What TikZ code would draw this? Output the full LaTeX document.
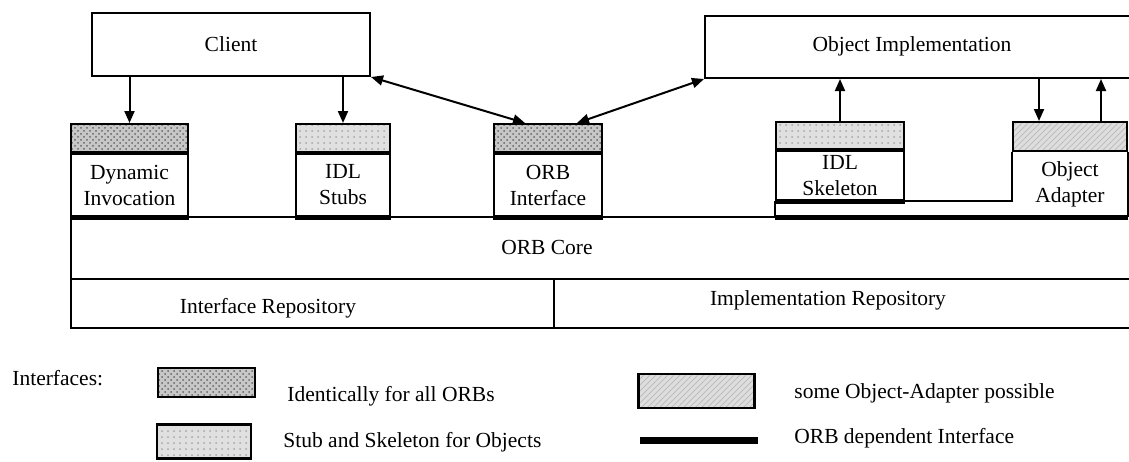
\documentclass[tikz,border=0pt]{standalone}
\usepackage{fontspec}
\setmainfont{Liberation Serif}
\usetikzlibrary{arrows.meta, positioning, patterns}
\newlength{\bandh}
\setlength{\bandh}{14pt}
\newlength{\bodyh}
\setlength{\bodyh}{31pt}
\tikzset{txt/.style={inner sep=0pt, font=\fontsize{10.75}{13}\selectfont}}
\tikzset{box/.style={draw, line width=1pt, inner sep=0pt, align=center, font=\fontsize{10.75}{13}\selectfont}}
\tikzset{darkband/.style={box, preaction={fill=black!22}, pattern=crosshatch dots, pattern color=black!60, minimum height=\bandh}}
\tikzset{lightband/.style={box, preaction={fill=black!12}, pattern=dots, pattern color=black!35, minimum height=\bandh}}
\tikzset{oaband/.style={box, preaction={fill=black!13}, pattern=north east lines, pattern color=black!25, minimum height=\bandh}}
\tikzset{line/.style={line width=1pt}}
\tikzset{bar/.style={line width=2.5pt}}
\tikzset{arr/.style={-{Triangle[length=6pt,width=5pt]}, line width=1pt}}
\tikzset{darr/.style={{Triangle[length=6pt,width=5pt]}-{Triangle[length=6pt,width=5pt]}, line width=1pt}}
\begin{document}
\begin{tikzpicture}[x=0.5pt, y=-0.5pt]
	\useasboundingbox (0,0) rectangle (1129,461);
	\clip (0,0) rectangle (1129,461);
	
	%%% NODES %%%
	
	% CLIENT AND OBJECT IMPLEMENTATION
	\node[box, minimum width=139pt, minimum height=31.5pt] at (231,44.5) (client) {Client};
	\node[box, minimum width=218pt, minimum height=31pt, anchor=north west] at (704,15) (objimpl) {};
	\node[txt] at (912,46) (objimpltext) {Object Implementation};
	
	% INTERFACES
	\node[darkband, minimum width=58.5pt] at (129.5,138) (dynband) {};
	\node[box, minimum width=58.5pt, minimum height=\bodyh, below=0pt of dynband] (dyn) {Dynamic\\Invocation};
	\node[lightband, minimum width=47pt] at (343,138) (stubsband) {};
	\node[box, minimum width=47pt, minimum height=\bodyh, below=0pt of stubsband] (stubs) {IDL\\Stubs};
	\node[darkband, minimum width=54pt] at (548,138) (orbifband) {};
	\node[box, minimum width=54pt, minimum height=\bodyh, below=0pt of orbifband] (orbif) {ORB\\Interface};
	\node[lightband, minimum width=64pt, minimum height=13.5pt] at (840,135.5) (skelband) {};
	\node[box, minimum width=64pt, minimum height=24.5pt, below=0pt of skelband] (skel) {IDL\\Skeleton};
	\node[oaband, minimum width=57pt, minimum height=14.5pt] at (1070,136.5) (adaptband) {};
	\node[box, draw=none, minimum width=57pt, minimum height=31.5pt, below=0pt of adaptband] (adapt) {Object\\Adapter};
	
	% ORB CORE AND REPOSITORIES
	\coordinate (corenw) at (71,214);
	\draw[line] (corenw) -- (71,328) -- (1140,328);
	\draw[line] (71,279) -- (1140,279);
	\draw[line] (554,279) -- (554,328);
	\node[txt] at (547,247) (orbcore) {ORB Core};
	\node[txt] at (268,308) (intrepo) {Interface Repository};
	\node[txt] at (828,300) (implrepo) {Implementation Repository};
	
	% LEGEND
	\node[txt, anchor=west] at (12,378) (legtitle) {Interfaces:};
	\node[darkband, minimum width=48.5pt, minimum height=14.5pt, line width=1.2pt] at (206.5,382.5) (legdark) {};
	\node[txt, anchor=west] at (287,396) (legdarktext) {Identically for all ORBs};
	\node[lightband, minimum width=47pt, minimum height=17pt, line width=1.2pt] at (204,441.5) (leglight) {};
	\node[txt, anchor=west] at (283,442) (leglighttext) {Stub and Skeleton for Objects};
	\node[oaband, minimum width=58pt, minimum height=17pt, line width=1.2pt] at (696.5,391) (legoa) {};
	\node[txt, anchor=west] at (794,393) (legoatext) {some Object-Adapter possible};
	\coordinate (legbarw) at (640,440);
	\coordinate (legbare) at (758,440);
	\node[txt, anchor=west] at (794,438) (legbartext) {ORB dependent Interface};
	
	%%% LINES %%%
	
	% ORB CORE TOP
	\draw[line] (dyn.south east) -- (stubs.south west);
	\draw[line] (stubs.south east) -- (orbif.south west);
	\draw[line] (orbif.south east) -- (skel.west |- adapt.south);
	\draw[line] (skel.south west) -- (skel.west |- adapt.south);
	\draw[line] (skel.south east) -- (adapt.west |- skel.south) -- (adapt.north west);
	\draw[line] (adapt.north east) -- (adapt.south east);
	
	% ORB DEPENDENT BARS
	\draw[bar] (dyn.south west) -- (dyn.south east);
	\draw[bar] (stubs.south west) -- (stubs.south east);
	\draw[bar] (orbif.south west) -- (orbif.south east);
	\draw[bar] (skel.south west) -- (skel.south east);
	\draw[bar] (skel.west |- adapt.south) -- (adapt.south east);
	\draw[line width=3.5pt] (legbarw) -- (legbare);
	
	%%% ARROWS %%%
	\coordinate (oain) at ([xshift=-15.5pt]adaptband.north);
	\coordinate (oaout) at ([xshift=15.5pt]adaptband.north);
	\draw[arr] (dynband.north |- client.south) -- (dynband.north);
	\draw[arr] (stubsband.north |- client.south) -- (stubsband.north);
	\draw[darr] (client.south east) -- ([xshift=-11.5pt]orbifband.north);
	\draw[darr] ([xshift=14.5pt]orbifband.north) -- (objimpl.south west);
	\draw[arr] (skelband.north) -- (skelband.north |- objimpl.south);
	\draw[arr] (oain |- objimpl.south) -- (oain);
	\draw[arr] (oaout) -- (oaout |- objimpl.south);
	
\end{tikzpicture}
\end{document}
